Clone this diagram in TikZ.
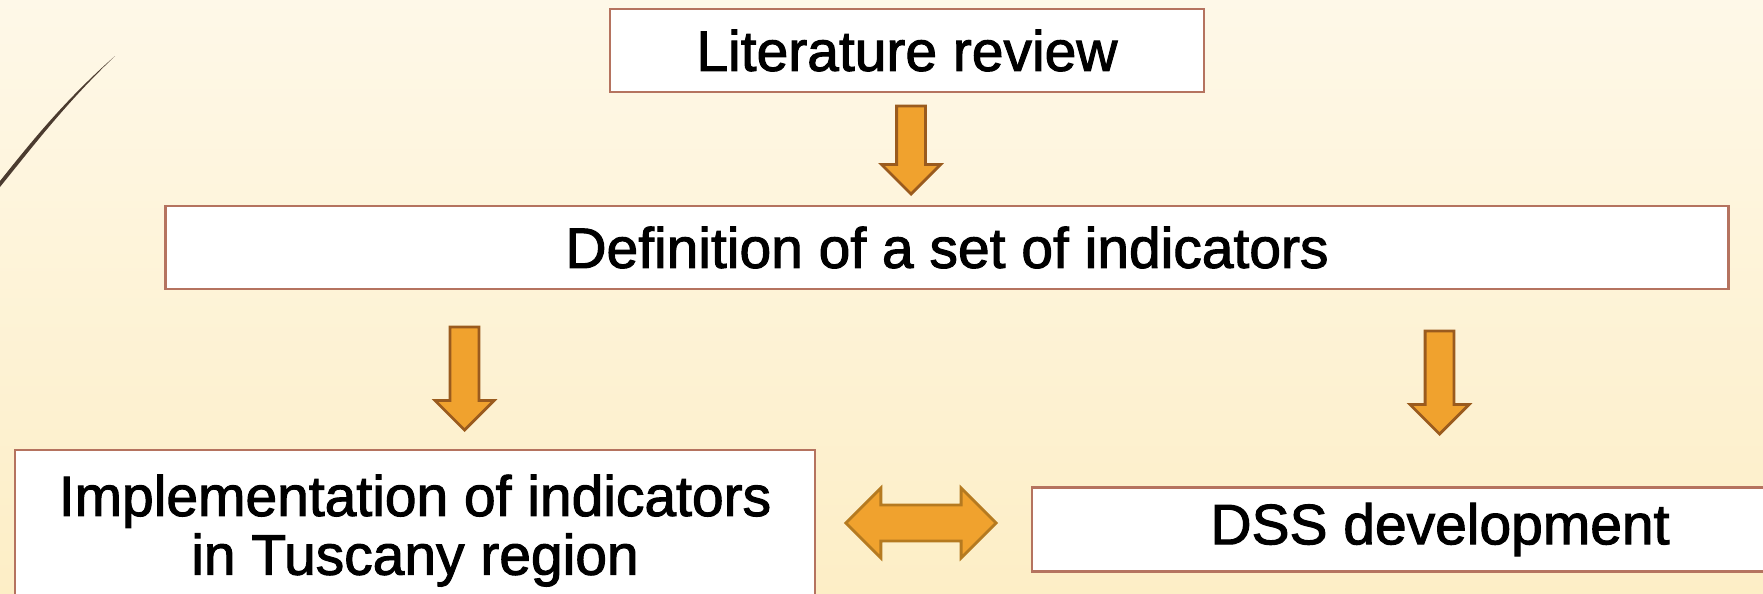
\documentclass[tikz,border=0pt]{standalone}
\usepackage{fontspec}
\setmainfont{Liberation Sans}
\newfontfamily\boxfont{Liberation Sans}[RawFeature={embolden=1.8}]
\usetikzlibrary{shapes.arrows}
\definecolor{bgtop}{RGB}{254,248,232}
\definecolor{bgbot}{RGB}{253,238,198}
\definecolor{boxline}{RGB}{181,115,95}
\definecolor{arrfill}{RGB}{240,162,46}
\definecolor{arrline}{RGB}{154,91,30}
\definecolor{dblline}{RGB}{181,122,32}
\definecolor{swoosh}{RGB}{75,59,47}
\begin{document}
\begin{tikzpicture}[x=0.01cm,y=-0.01cm,
		stagebox/.style={draw=boxline,fill=white,line width=0.6pt,inner sep=0pt,align=center,
			font=\boxfont\fontsize{16.2}{16.7}\selectfont},
		downarr/.style={single arrow,draw=arrline,fill=arrfill,line width=0.8pt,inner sep=0.13cm,
			single arrow head extend=0.15cm,shape border rotate=270,anchor=tip},
		botharr/.style={double arrow,draw=dblline,fill=arrfill,line width=0.8pt,inner sep=0.165cm,
			double arrow head extend=0.17cm,minimum height=1.5cm}]
			\useasboundingbox (0,0) rectangle (1763,594);
			\shade[top color=bgtop,bottom color=bgbot] (0,0) rectangle (1763,594);
			%swoosh
			\fill[swoosh] (0,181) .. controls (32,141) and (64,101) .. (115,56) .. controls (66,103) and (34,145) .. (0,187) -- cycle;
			%boxes
			\node[stagebox,minimum width=5.935cm,minimum height=0.83cm] (lit) at (907,50.5) {Literature review};
			\node[stagebox,minimum width=15.62cm,minimum height=0.83cm] (def) at (947,247.5) {Definition of a set of indicators};
			\node[stagebox,minimum width=8cm,minimum height=1.61cm,anchor=north] (impl) at (415,449) {Implementation of indicators\\in Tuscany region};
			\node[stagebox,minimum width=8.16cm,minimum height=0.84cm] (dss) at (1440,529.5) {DSS development};
			%arrows
			\node[downarr,minimum height=0.88cm] (a1) at (911,196) {};
			\node[downarr,minimum height=1.03cm] (a2) at (464.5,432) {};
			\node[downarr,minimum height=1.03cm] (a3) at (1439.5,436) {};
			\node[botharr] (a4) at (921,523) {};
		\end{tikzpicture}
\end{document}
